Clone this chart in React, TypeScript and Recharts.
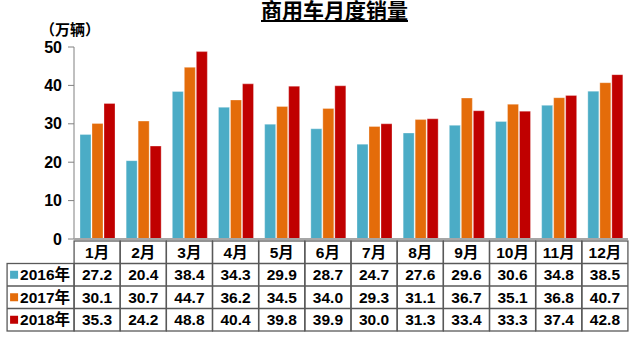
import React from 'react';
import { BarChart, Bar, XAxis, YAxis } from 'recharts';

// 月份
const months = ['1月', '2月', '3月', '4月', '5月', '6月', '7月', '8月', '9月', '10月', '11月', '12月'];
// 各年商用车销量（万辆）
const sales2016 = [27.2, 20.4, 38.4, 34.3, 29.9, 28.7, 24.7, 27.6, 29.6, 30.6, 34.8, 38.5];
const sales2017 = [30.1, 30.7, 44.7, 36.2, 34.5, 34.0, 29.3, 31.1, 36.7, 35.1, 36.8, 40.7];
const sales2018 = [35.3, 24.2, 48.8, 40.4, 39.8, 39.9, 30.0, 31.3, 33.4, 33.3, 37.4, 42.8];
const yTicks = [0, 10, 20, 30, 40, 50];

const series = [
  { key: 'y2016', name: '2016年', color: '#4BACC6', values: sales2016 },
  { key: 'y2017', name: '2017年', color: '#E46C0A', values: sales2017 },
  { key: 'y2018', name: '2018年', color: '#C00000', values: sales2018 },
];

const data = months.map((m, i) => ({
  month: m,
  y2016: sales2016[i],
  y2017: sales2017[i],
  y2018: sales2018[i],
}));

const FONT = '"Liberation Sans", Arial, "Noto Sans CJK SC", sans-serif';
const CELL_W = 46;
const ROW_H = 22.5;
const LEFT_W = 67;
const BORDER = '#595959';

// 表格：每个月一列，第一列顺便画出左侧图例
const TableTick = (props: any) => {
  const { x, y, payload } = props;
  const i = payload.index;
  const top = y + 2;
  const left = x - CELL_W / 2;
  return (
    <g fontFamily={FONT} fontWeight="bold" fontSize={15.5} fill="#000">
      <rect x={left} y={top} width={CELL_W} height={ROW_H * 4} fill="none" stroke={BORDER} strokeWidth={1.3} />
      {[1, 2, 3].map(r => (
        <line key={r} x1={left} x2={left + CELL_W} y1={top + ROW_H * r} y2={top + ROW_H * r} stroke={BORDER} strokeWidth={1.3} />
      ))}
      <text x={x} y={top + ROW_H / 2 + 5.5} textAnchor="middle">{payload.value}</text>
      {series.map((s, r) => (
        <text key={s.key} x={x} y={top + ROW_H * (r + 1.5) + 5.5} textAnchor="middle">
          {s.values[i].toFixed(1)}
        </text>
      ))}
      {i === 0 && (
        <g>
          <rect x={left - LEFT_W} y={top + ROW_H} width={LEFT_W} height={ROW_H * 3} fill="none" stroke={BORDER} strokeWidth={1.3} />
          {[2, 3].map(r => (
            <line key={r} x1={left - LEFT_W} x2={left} y1={top + ROW_H * r} y2={top + ROW_H * r} stroke={BORDER} strokeWidth={1.3} />
          ))}
          {series.map((s, r) => (
            <g key={s.key}>
              <rect x={left - LEFT_W + 3} y={top + ROW_H * (r + 1.5) - 4} width={8} height={8} fill={s.color} />
              <text x={left - LEFT_W + 13} y={top + ROW_H * (r + 1.5) + 5.5}>{s.name}</text>
            </g>
          ))}
        </g>
      )}
    </g>
  );
};

export default function App() {
  return (
    <div style={{ position: 'absolute', left: 0, top: 0, width: 640, height: 339, background: '#fff' }}>
      <div
        style={{
          position: 'absolute',
          left: 0,
          width: 669,
          top: 0,
          textAlign: 'center',
          fontFamily: FONT,
          fontWeight: 'bold',
          fontSize: 21,
          textDecoration: 'underline',
          lineHeight: '22px',
        }}
      >
        商用车月度销量
      </div>
      <div
        style={{
          position: 'absolute',
          left: 40,
          top: 22,
          fontFamily: FONT,
          fontWeight: 'bold',
          fontSize: 15,
          lineHeight: '16px',
        }}
      >
        （万辆）
      </div>
      <BarChart
        width={640}
        height={339}
        data={data}
        margin={{ top: 47, right: 12, left: 0, bottom: 8 }}
        barCategoryGap="13%"
        barGap={1}
      >
        <YAxis
          width={74}
          domain={[0, 50]}
          ticks={yTicks}
          interval={0}
          axisLine={{ stroke: '#808080' }}
          tickLine={{ stroke: '#808080' }}
          tickSize={6}
          tickMargin={6}
          tick={{ fill: '#000', fontSize: 16, fontWeight: 'bold', fontFamily: FONT }}
        />
        <XAxis
          dataKey="month"
          height={92}
          interval={0}
          tickSize={0}
          tickMargin={0}
          tickLine={false}
          axisLine={{ stroke: '#A6A6A6', strokeWidth: 2 }}
          tick={<TableTick />}
        />
        {series.map(s => (
          <Bar key={s.key} dataKey={s.key} name={s.name} fill={s.color} stroke="#ffffff" strokeOpacity={0.5} strokeWidth={0.6} isAnimationActive={false} />
        ))}
      </BarChart>
    </div>
  );
}
